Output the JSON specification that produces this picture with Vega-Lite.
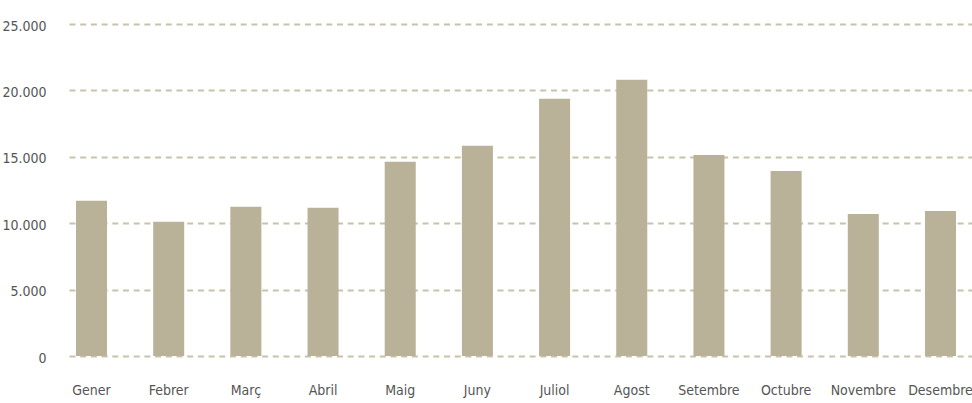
{
  "$schema": "https://vega.github.io/schema/vega-lite/v6.json",
  "width": 903,
  "height": 332,
  "autosize": {"type": "none"},
  "padding": {"left": 69, "top": 24, "right": 0, "bottom": 47},
  "background": "white",
  "config": {"view": {"stroke": null}, "font": "DejaVu Sans Condensed"},
  "data": {"values": [
    {"mes": "Gener", "valor": 11690},
    {"mes": "Febrer", "valor": 10100},
    {"mes": "Març", "valor": 11240},
    {"mes": "Abril", "valor": 11160},
    {"mes": "Maig", "valor": 14620},
    {"mes": "Juny", "valor": 15830},
    {"mes": "Juliol", "valor": 19370},
    {"mes": "Agost", "valor": 20800},
    {"mes": "Setembre", "valor": 15140},
    {"mes": "Octubre", "valor": 13940},
    {"mes": "Novembre", "valor": 10690},
    {"mes": "Desembre", "valor": 10920}
  ]},
  "mark": {"type": "bar", "color": "#b9b299"},
  "encoding": {
    "x": {
      "field": "mes", "type": "nominal", "sort": null,
      "scale": {"paddingInner": 0.598, "paddingOuter": 0.149, "align": 0.304},
      "axis": {"title": null, "labelAngle": 0, "domain": false, "ticks": false, "tickSize": 0, "labelPadding": 27, "labelFontSize": 14, "labelColor": "#555555", "grid": false}
    },
    "y": {
      "field": "valor", "type": "quantitative",
      "scale": {"domain": [0, 25000], "nice": false},
      "axis": {"title": null, "values": [0, 5000, 10000, 15000, 20000, 25000], "format": ",d", "labelExpr": "replace(datum.label, ',', '.')", "domain": false, "ticks": false, "tickSize": 0, "labelPadding": 23, "labelFontSize": 14, "labelColor": "#555555", "labelOffset": 2, "grid": true, "gridColor": "#c8c2aa", "gridDash": [6, 4.7], "gridWidth": 2}
    }
  }
}
